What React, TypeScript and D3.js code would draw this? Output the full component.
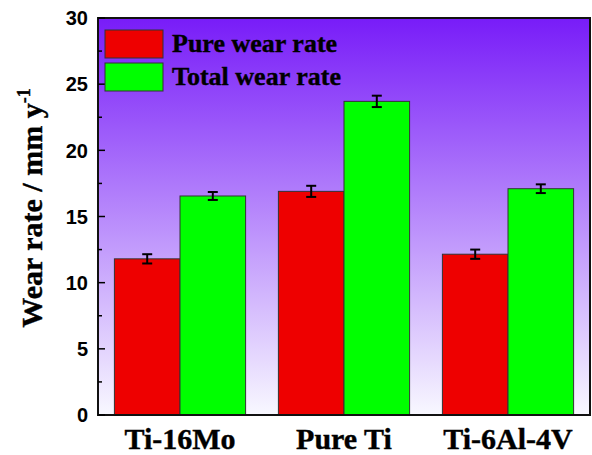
import React from 'react'
import * as d3 from 'd3'

const categories = ['Ti-16Mo', 'Pure Ti', 'Ti-6Al-4V']
const seriesNames = ['Pure wear rate', 'Total wear rate']
const seriesColors = ['#ee0000', '#00ff00']
const pureWear = [11.8, 16.9, 12.15]
const pureErr = [0.35, 0.42, 0.35]
const totalWear = [16.55, 23.7, 17.1]
const totalErr = [0.3, 0.43, 0.33]
const yTicks = [0, 5, 10, 15, 20, 25, 30]

const W = 592
const H = 455
const m = { left: 98, right: 2, top: 18, bottom: 40 }

export default function App() {
  const x = d3.scaleBand<string>()
    .domain(categories)
    .range([m.left, W - m.right])
    .paddingInner(0.2)
    .paddingOuter(0.1)
  const xs = d3.scaleBand<number>()
    .domain([0, 1])
    .range([0, x.bandwidth()])
  const y = d3.scaleLinear().domain([0, 30]).range([H - m.bottom, m.top])
  const minor = d3.range(2.5, 30, 5)
  const series = [
    { vals: pureWear, errs: pureErr },
    { vals: totalWear, errs: totalErr },
  ]
  const serif = '"Liberation Serif", "Times New Roman", serif'
  const sans = '"Liberation Sans", Arial, sans-serif'
  // the original's bold serif is a bit heavier
  const heavy = { stroke: '#000', strokeWidth: 0.4 }

  return (
    <svg width={W} height={H} style={{ position: 'absolute', left: 0, top: 0, background: '#fff' }}>
      <defs>
        <linearGradient id="bg" x1="0" y1="0" x2="0" y2="1">
          <stop offset="0%" stopColor="rgb(120,28,248)" />
          <stop offset="100%" stopColor="rgb(248,248,255)" />
        </linearGradient>
      </defs>
      <rect x={m.left} y={m.top} width={W - m.right - m.left} height={y(0) - m.top} fill="url(#bg)" />

      {categories.map((c, i) => (
        <g key={c} transform={`translate(${x(c)},0)`}>
          {series.map((s, j) => {
            const bx = xs(j)!
            const cx = bx + xs.bandwidth() / 2
            return (
              <g key={j}>
                <rect x={bx} y={y(s.vals[i])} width={xs.bandwidth()} height={y(0) - y(s.vals[i])}
                  fill={seriesColors[j]} stroke="#333" strokeWidth={1} />
                <line x1={cx} x2={cx} y1={y(s.vals[i] + s.errs[i])} y2={y(s.vals[i] - s.errs[i])} stroke="#000" strokeWidth={2} />
                <line x1={cx - 5} x2={cx + 5} y1={y(s.vals[i] + s.errs[i])} y2={y(s.vals[i] + s.errs[i])} stroke="#000" strokeWidth={2} />
                <line x1={cx - 5} x2={cx + 5} y1={y(s.vals[i] - s.errs[i])} y2={y(s.vals[i] - s.errs[i])} stroke="#000" strokeWidth={2} />
              </g>
            )
          })}
        </g>
      ))}

      {/* frame */}
      <rect x={m.left} y={m.top} width={W - m.right - m.left} height={y(0) - m.top} fill="none" stroke="#111" strokeWidth={2} />

      {yTicks.map(t => (
        <g key={t}>
          <line x1={m.left} x2={m.left + 7} y1={y(t)} y2={y(t)} stroke="#000" strokeWidth={1.5} />
          <text x={88} y={y(t)} dy="0.36em" textAnchor="end" fontFamily={sans} fontWeight="bold" fontSize={20}>{t}</text>
        </g>
      ))}
      {minor.map(t => (
        <line key={t} x1={m.left} x2={m.left + 4} y1={y(t)} y2={y(t)} stroke="#000" strokeWidth={1.5} />
      ))}

      {categories.map(c => (
        <text key={c} x={x(c)! + x.bandwidth() / 2} y={449} textAnchor="middle" fontFamily={serif} fontWeight="bold" fontSize={30} {...heavy}>{c}</text>
      ))}

      <text transform="translate(42,208) rotate(-90)" textAnchor="middle" fontFamily={serif} fontWeight="bold" fontSize={30} {...heavy}>
        Wear rate / mm y<tspan fontSize={18} dy={-12}>-1</tspan>
      </text>

      {seriesNames.map((n, j) => (
        <g key={n} transform={`translate(105,${30 + j * 33})`}>
          <rect width={58} height={28} fill={seriesColors[j]} stroke="#333" strokeWidth={1} />
          <text x={67} y={22} fontFamily={serif} fontWeight="bold" fontSize={26} {...heavy}>{n}</text>
        </g>
      ))}
    </svg>
  )
}
